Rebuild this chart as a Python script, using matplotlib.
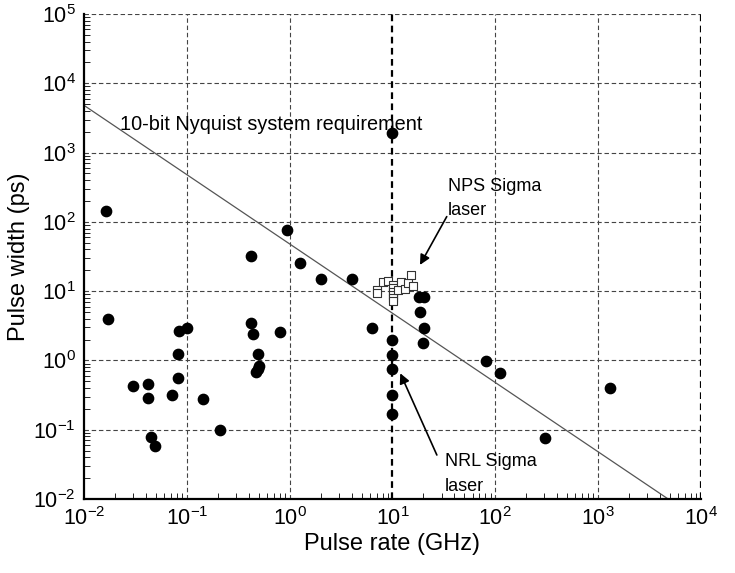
import numpy as np
import matplotlib.pyplot as plt

plt.rcParams['font.family'] = ['Liberation Sans', 'DejaVu Sans']

# filled dots: published lasers (pulse rate GHz, pulse width ps)
rate = [0.0164, 0.017, 0.030, 0.0423, 0.0423, 0.0449, 0.0486, 0.0713, 0.082,
        0.082, 0.083, 0.101, 0.144, 0.212, 0.424, 0.424, 0.443, 0.489, 0.507,
        0.471, 0.49, 0.81, 0.94, 1.25, 2.0, 4.02, 6.3,
        10.0, 10.0, 10.0, 10.0, 10.0, 10.0,
        18.3, 20.3, 18.6, 20.3, 20.0,
        81, 110, 305, 1290]
width = [143, 3.93, 0.43, 0.458, 0.288, 0.078, 0.059, 0.32, 0.565,
         1.24, 2.67, 2.97, 0.275, 0.099, 31.9, 3.44, 2.44, 1.25, 0.83,
         0.69, 0.75, 2.55, 76.4, 25.8, 14.9, 14.9, 2.97,
         1900, 1.95, 1.2, 0.75, 0.32, 0.17,
         8.2, 8.2, 5.06, 2.97, 1.77,
         0.98, 0.65, 0.075, 0.40]

# open squares: NPS Sigma laser
nps_rate = [7.1, 7.1, 8.05, 9.0, 10.2, 10.2, 10.2, 10.2, 10.2, 10.2,
            11.2, 12.05, 13.3, 14.1, 15.1, 16.0]
nps_width = [10.4, 9.3, 13.4, 14.2, 12.3, 11.0, 9.8, 8.8, 7.9, 7.3,
             10.4, 13.4, 10.6, 13.0, 17.1, 11.9]

# 10-bit Nyquist requirement: width = C / rate
nyq_c = 48.0
nyq_x = np.array([1e-2, 1e4])

fig = plt.figure(figsize=(7.35, 5.73), dpi=100)
ax = fig.add_axes([0.1143, 0.1291, 0.8394, 0.8465])
ax.set_xscale('log')
ax.set_yscale('log')
ax.set_xlim(1e-2, 1e4)
ax.set_ylim(1e-2, 1e5)

# grid
for yv in [1e-1, 1e0, 1e1, 1e2, 1e3, 1e4, 1e5]:
    ax.axhline(yv, color='#444444', lw=0.8, dashes=(4, 2.5), zorder=1)
for xv in [1e-1, 1e0, 1e2, 1e3]:
    ax.axvline(xv, color='#444444', lw=0.8, dashes=(4, 2.5), zorder=1)
for xv in [1e1, 1e4]:
    ax.axvline(xv, color='black', lw=1.6, dashes=(3, 2), zorder=1)

ax.plot(nyq_x, nyq_c / nyq_x, color='#555555', lw=0.9, zorder=2)

ax.scatter(rate, width, s=55, color='black', zorder=3)
ax.scatter(nps_rate, nps_width, s=35, marker='s', facecolors='white',
           edgecolors='#333333', linewidths=0.8, zorder=4)

ax.text(0.0224, 2570, '10-bit Nyquist system requirement', fontsize=14.3,
        va='center')
ax.text(34.7, 218, 'NPS Sigma\nlaser', fontsize=13, linespacing=1.6,
        va='center')
ax.text(32.5, 0.023, 'NRL Sigma\nlaser', fontsize=13, linespacing=1.6,
        va='center')
ax.annotate('', xy=(18.5, 23.9), xytext=(33.7, 119),
            arrowprops=dict(arrowstyle='-|>', color='black', lw=1.2,
                            mutation_scale=15, shrinkA=0, shrinkB=0))
ax.annotate('', xy=(11.9, 0.653), xytext=(27, 0.0432),
            arrowprops=dict(arrowstyle='-|>', color='black', lw=1.2,
                            mutation_scale=15, shrinkA=0, shrinkB=0))

ax.spines['top'].set_visible(False)
ax.spines['right'].set_visible(False)
ax.spines['left'].set_linewidth(1.6)
ax.spines['bottom'].set_linewidth(1.6)
ax.tick_params(which='both', direction='in', top=False, right=False)
ax.tick_params(which='major', length=0, labelsize=15.5, pad=6)
ax.tick_params(which='minor', length=4)
ax.set_xticks([1e-2, 1e-1, 1e0, 1e1, 1e2, 1e3, 1e4])
ax.set_yticks([1e-2, 1e-1, 1e0, 1e1, 1e2, 1e3, 1e4, 1e5])
ax.set_xlabel('Pulse rate (GHz)', fontsize=17, labelpad=2)
ax.set_ylabel('Pulse width (ps)', fontsize=17, labelpad=2)

fig.savefig('out.png', dpi=100)
